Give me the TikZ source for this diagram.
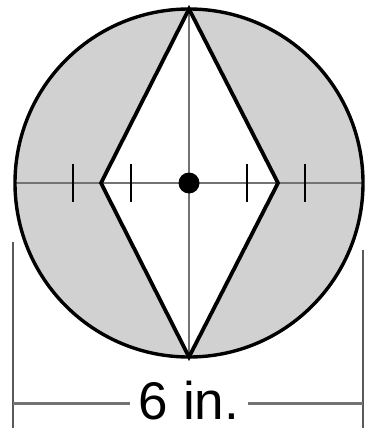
\documentclass[tikz,border=0pt]{standalone}
\usepackage{fontspec}
\setmainfont{Liberation Sans}
\usetikzlibrary{positioning,calc}
\tikzset{
  rim/.style={draw=black, line width=3.4pt},
  shade/.style={fill=black!18},
  kite/.style={draw=black, line width=3.8pt, line join=miter},
  axis/.style={draw=black!55, line width=2.8pt},
  tick/.style={draw=black, line width=2.8pt},
  extline/.style={draw=black!65, line width=2.8pt},
  dimline/.style={draw=black!55, line width=3pt},
  dimlbl/.style={font=\fontsize{53}{56}\selectfont, inner xsep=9pt, inner ysep=1pt}
}
\begin{document}
\begin{tikzpicture}[x=1pt, y=-1pt]
  \useasboundingbox (0,0) rectangle (366,428);
  \coordinate (c) at (189,183);
  \coordinate (n) at (189,9);
  \coordinate (s) at (189,357);
  \coordinate (w) at (15,183);
  \coordinate (e) at (363,183);
  \coordinate (kw) at (101,183);
  \coordinate (ke) at (278,183);
  % shaded ring between circle and kite
  \fill[shade, even odd rule] (c) circle[radius=174] (n) -- (ke) -- (s) -- (kw) -- cycle;
  \draw[axis] (w) -- (e);
  \draw[axis] (n) -- (s);
  \foreach \dx in {-116,-58,58,116}
    \draw[tick] ($(c)+(\dx,-19)$) -- ($(c)+(\dx,19)$);
  \draw[kite] (n) -- (ke) -- (s) -- (kw) -- cycle;
  \draw[rim] (c) circle[radius=174];
  \fill (c) circle[radius=10.5];
  % dimension
  \coordinate (lt) at (13,242);
  \coordinate (lb) at (13,428);
  \coordinate (rt) at (363,250);
  \coordinate (rb) at (363,428);
  \draw[extline] (lt) -- (lb);
  \draw[extline] (rt) -- (rb);
  \node[dimlbl] (d) at (189,401) {6 in.};
  \draw[dimline] (13,403) -- (d.west |- 0,403);
  \draw[dimline] (d.east |- 0,403) -- (363,403);
\end{tikzpicture}
\end{document}
